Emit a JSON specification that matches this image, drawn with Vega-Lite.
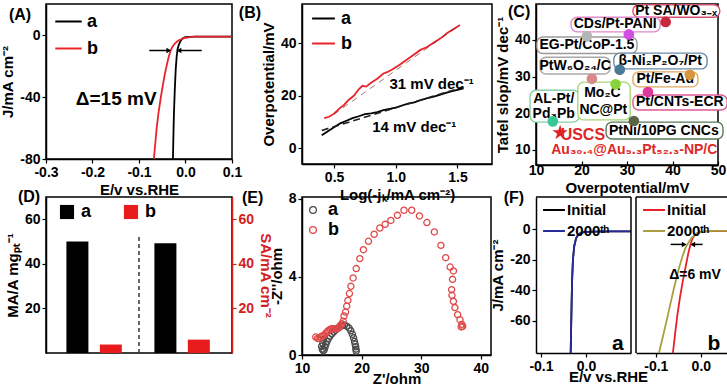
{
  "$schema": "https://vega.github.io/schema/vega-lite/v6.json",
  "background": "white",
  "padding": {"left": 0, "top": 1, "right": 0, "bottom": 0},
  "config": {
    "font": "Liberation Sans",
    "view": {"stroke": "black", "strokeWidth": 1.5},
    "axis": {"grid": false, "domainColor": "black", "domainWidth": 1.5, "tickColor": "black", "tickWidth": 1.2, "tickSize": 4, "labelFont": "Liberation Sans", "labelFontSize": 14, "labelFontWeight": "bold", "labelColor": "black", "titleFont": "Liberation Sans", "titleFontSize": 15, "titleFontWeight": "bold", "titleColor": "black", "labelPadding": 2, "titlePadding": 2, "labelFlush": false, "labelOverlap": false},
    "legend": {"labelFont": "Liberation Sans", "labelFontWeight": "bold", "labelColor": "black"},
    "text": {"font": "Liberation Sans", "fontWeight": "bold"}
  },
  "columns": 5,
  "spacing": {"row": 32, "column": 5},
  "bounds": "flush",
  "resolve": {"scale": {"color": "independent", "stroke": "independent", "fill": "independent", "shape": "independent", "size": "independent"}},
  "concat": [
    {
      "width": 186, "height": 155,
      "layer": [
        {
          "data": {"values": [
            {"s": "a", "E": 0.1, "J": -1}, {"s": "a", "E": 0.05, "J": -1}, {"s": "a", "E": 0.02, "J": -1.1}, {"s": "a", "E": 0.0, "J": -1.4}, {"s": "a", "E": -0.005, "J": -2}, {"s": "a", "E": -0.01, "J": -3.5}, {"s": "a", "E": -0.014, "J": -6}, {"s": "a", "E": -0.017, "J": -9}, {"s": "a", "E": -0.019, "J": -14}, {"s": "a", "E": -0.021, "J": -22}, {"s": "a", "E": -0.023, "J": -35}, {"s": "a", "E": -0.025, "J": -52}, {"s": "a", "E": -0.026, "J": -65}, {"s": "a", "E": -0.027, "J": -80},
            {"s": "b", "E": 0.1, "J": -1}, {"s": "b", "E": 0.05, "J": -1}, {"s": "b", "E": 0.02, "J": -1.1}, {"s": "b", "E": 0.005, "J": -1.5}, {"s": "b", "E": -0.005, "J": -2.2}, {"s": "b", "E": -0.013, "J": -3.2}, {"s": "b", "E": -0.018, "J": -4.2}, {"s": "b", "E": -0.023, "J": -5.5}, {"s": "b", "E": -0.028, "J": -7.5}, {"s": "b", "E": -0.032, "J": -10}, {"s": "b", "E": -0.036, "J": -14}, {"s": "b", "E": -0.04, "J": -19}, {"s": "b", "E": -0.045, "J": -26}, {"s": "b", "E": -0.049, "J": -33}, {"s": "b", "E": -0.053, "J": -40}, {"s": "b", "E": -0.058, "J": -50}, {"s": "b", "E": -0.062, "J": -60}, {"s": "b", "E": -0.065, "J": -70}, {"s": "b", "E": -0.068, "J": -80}
          ]},
          "mark": {"type": "line", "strokeWidth": 1.8, "clip": true},
          "encoding": {
            "x": {"field": "E", "type": "quantitative", "scale": {"domain": [-0.3, 0.1], "nice": false, "zero": false}, "axis": {"values": [-0.3, -0.2, -0.1, 0, 0.1], "format": ".1f", "title": "E/v vs.RHE", "labelExpr": "replace(datum.label, '\u2212', '-')", "titlePadding": 3}},
            "y": {"field": "J", "type": "quantitative", "scale": {"domain": [-80, 20], "nice": false, "zero": false}, "axis": {"values": [-80, -60, -40, -20, 0], "title": "J/mA cm\u207b\u00b2", "labelExpr": "replace(datum.label, '\u2212', '-')", "titlePadding": 4}},
            "color": {"field": "s", "type": "nominal", "scale": {"domain": ["a", "b"], "range": ["black", "#e8242a"]}, "legend": {"orient": "none", "legendX": 8, "legendY": 3, "title": null, "symbolType": "stroke", "symbolSize": 700, "symbolStrokeWidth": 2, "labelFontSize": 18, "rowPadding": 3, "labelOffset": 4}}
          }
        },
        {
          "data": {"values": [{}]},
          "mark": {"type": "rule", "color": "black", "strokeWidth": 1.5},
          "encoding": {"x": {"datum": -0.078}, "x2": {"datum": -0.036}, "y": {"datum": -10}}
        },
        {
          "data": {"values": [{}]},
          "mark": {"type": "rule", "color": "black", "strokeWidth": 1.5},
          "encoding": {"x": {"datum": 0.035}, "x2": {"datum": -0.014}, "y": {"datum": -10}}
        },
        {
          "data": {"values": [{}]},
          "mark": {"type": "point", "shape": "triangle-right", "filled": true, "color": "black", "size": 30, "opacity": 1},
          "encoding": {"x": {"datum": -0.036}, "y": {"datum": -10}}
        },
        {
          "data": {"values": [{}]},
          "mark": {"type": "point", "shape": "triangle-left", "filled": true, "color": "black", "size": 30, "opacity": 1},
          "encoding": {"x": {"datum": -0.014}, "y": {"datum": -10}}
        },
        {
          "data": {"values": [{"t": "\u0394=15 mV", "E": -0.149, "J": -41}]},
          "mark": {"type": "text", "fontSize": 19, "color": "black", "align": "center", "baseline": "middle"},
          "encoding": {"x": {"field": "E", "type": "quantitative"}, "y": {"field": "J", "type": "quantitative"}, "text": {"field": "t"}}
        },
        {
          "data": {"values": [{"t": "(A)", "E": -0.3796, "J": 12.6}]},
          "mark": {"type": "text", "fontSize": 16, "color": "black", "align": "left", "baseline": "middle"},
          "encoding": {"x": {"field": "E", "type": "quantitative"}, "y": {"field": "J", "type": "quantitative"}, "text": {"field": "t"}}
        }
      ]
    },
    {
      "width": 60, "height": 1,
      "view": {"stroke": null},
      "data": {"values": [{}]},
      "mark": {"type": "point", "opacity": 0}
    },
    {
      "width": 190, "height": 160,
      "layer": [
        {
          "data": {"values": [
            {"s": "a", "L": 0.4, "V": 5}, {"s": "a", "L": 0.45, "V": 6.5}, {"s": "a", "L": 0.5, "V": 8}, {"s": "a", "L": 0.55, "V": 9.5}, {"s": "a", "L": 0.6, "V": 10.5}, {"s": "a", "L": 0.65, "V": 11.5}, {"s": "a", "L": 0.7, "V": 12.2}, {"s": "a", "L": 0.75, "V": 13}, {"s": "a", "L": 0.8, "V": 13.3}, {"s": "a", "L": 0.85, "V": 13.8}, {"s": "a", "L": 0.9, "V": 14.5}, {"s": "a", "L": 0.95, "V": 15}, {"s": "a", "L": 1.0, "V": 15.5}, {"s": "a", "L": 1.05, "V": 16.3}, {"s": "a", "L": 1.1, "V": 17}, {"s": "a", "L": 1.15, "V": 17.5}, {"s": "a", "L": 1.2, "V": 18.3}, {"s": "a", "L": 1.25, "V": 19}, {"s": "a", "L": 1.3, "V": 19.6}, {"s": "a", "L": 1.35, "V": 20.3}, {"s": "a", "L": 1.4, "V": 21}, {"s": "a", "L": 1.45, "V": 21.7}, {"s": "a", "L": 1.5, "V": 22.3}, {"s": "a", "L": 1.55, "V": 22.8},
            {"s": "b", "L": 0.42, "V": 11.5}, {"s": "b", "L": 0.46, "V": 12}, {"s": "b", "L": 0.5, "V": 13.2}, {"s": "b", "L": 0.54, "V": 15}, {"s": "b", "L": 0.58, "V": 16.5}, {"s": "b", "L": 0.62, "V": 18.5}, {"s": "b", "L": 0.66, "V": 20}, {"s": "b", "L": 0.7, "V": 22.5}, {"s": "b", "L": 0.73, "V": 23.8}, {"s": "b", "L": 0.76, "V": 23.5}, {"s": "b", "L": 0.8, "V": 25}, {"s": "b", "L": 0.85, "V": 26.5}, {"s": "b", "L": 0.9, "V": 28.5}, {"s": "b", "L": 0.93, "V": 29}, {"s": "b", "L": 0.97, "V": 30}, {"s": "b", "L": 1.02, "V": 31.5}, {"s": "b", "L": 1.08, "V": 33.5}, {"s": "b", "L": 1.14, "V": 35.5}, {"s": "b", "L": 1.2, "V": 37.5}, {"s": "b", "L": 1.25, "V": 38.5}, {"s": "b", "L": 1.3, "V": 40}, {"s": "b", "L": 1.36, "V": 41.8}, {"s": "b", "L": 1.42, "V": 44}, {"s": "b", "L": 1.47, "V": 45.5}, {"s": "b", "L": 1.52, "V": 47}
          ]},
          "mark": {"type": "line", "strokeWidth": 1.8},
          "encoding": {
            "x": {"field": "L", "type": "quantitative", "scale": {"domain": [0.24, 1.78], "nice": false, "zero": false}, "axis": {"values": [0.5, 1.0, 1.5], "format": ".1f", "title": "Log(-j\u2096/mA cm\u207b\u00b2)", "titlePadding": 3}},
            "y": {"field": "V", "type": "quantitative", "scale": {"domain": [-6, 55], "nice": false, "zero": false}, "axis": {"values": [0, 10, 20, 30, 40], "title": "Overpotential/mV", "titlePadding": 4}},
            "color": {"field": "s", "type": "nominal", "scale": {"domain": ["a", "b"], "range": ["black", "#e8242a"]}, "legend": {"orient": "none", "legendX": 9, "legendY": 2, "title": null, "symbolType": "stroke", "symbolSize": 520, "symbolStrokeWidth": 2, "labelFontSize": 18, "rowPadding": 3, "labelOffset": 5}}
          }
        },
        {
          "data": {"values": [{"L": 0.4, "V": 6.8}, {"L": 1.55, "V": 23.4}]},
          "mark": {"type": "line", "strokeWidth": 1.6, "color": "#222", "strokeDash": [7, 4]},
          "encoding": {"x": {"field": "L", "type": "quantitative"}, "y": {"field": "V", "type": "quantitative"}}
        },
        {
          "data": {"values": [{"L": 0.5, "V": 13.0}, {"L": 1.5, "V": 46.4}]},
          "mark": {"type": "line", "strokeWidth": 1, "color": "#7a1010", "strokeDash": [6, 5], "opacity": 0.6},
          "encoding": {"x": {"field": "L", "type": "quantitative"}, "y": {"field": "V", "type": "quantitative"}}
        },
        {
          "data": {"values": [{"t": "31 mV dec\u207b\u00b9", "L": 1.29, "V": 24.6}, {"t": "14 mV dec\u207b\u00b9", "L": 1.15, "V": 8.1}]},
          "mark": {"type": "text", "fontSize": 15, "color": "black", "align": "center", "baseline": "middle"},
          "encoding": {"x": {"field": "L", "type": "quantitative"}, "y": {"field": "V", "type": "quantitative"}, "text": {"field": "t"}}
        },
        {
          "data": {"values": [{"t": "(B)", "L": -0.272, "V": 51.6}]},
          "mark": {"type": "text", "fontSize": 16, "color": "black", "align": "left", "baseline": "middle"},
          "encoding": {"x": {"field": "L", "type": "quantitative"}, "y": {"field": "V", "type": "quantitative"}, "text": {"field": "t"}}
        }
      ]
    },
    {
      "width": 34, "height": 1,
      "view": {"stroke": null},
      "data": {"values": [{}]},
      "mark": {"type": "point", "opacity": 0}
    },
    {
      "width": 182, "height": 161,
      "layer": [
        {
          "data": {"values": [
            {"name": "Pt SA", "x1": 31.3, "x2": 50.4, "y1": 46.2, "y2": 49.6},
            {"name": "CDs", "x1": 17.7, "x2": 37.3, "y1": 42.2, "y2": 46.2},
            {"name": "EG", "x1": 10.2, "x2": 32.2, "y1": 36.3, "y2": 40.8},
            {"name": "PtW", "x1": 10.9, "x2": 26.3, "y1": 30.7, "y2": 35.3},
            {"name": "NiP", "x1": 27.1, "x2": 47.6, "y1": 32.1, "y2": 36.4},
            {"name": "FeAu", "x1": 31.3, "x2": 45.6, "y1": 27.2, "y2": 31.3},
            {"name": "ALPt", "x1": 8.7, "x2": 19.5, "y1": 17.6, "y2": 26.3},
            {"name": "Mo2C", "x1": 19.2, "x2": 30.7, "y1": 18.2, "y2": 28.5},
            {"name": "CNT", "x1": 31.3, "x2": 52, "y1": 20.9, "y2": 25},
            {"name": "PtNi", "x1": 25.4, "x2": 51.1, "y1": 13, "y2": 17.6}
          ]},
          "mark": {"type": "rect", "fill": "white", "strokeWidth": 1.4, "cornerRadius": 6, "clip": false},
          "encoding": {
            "x": {"field": "x1", "type": "quantitative", "scale": {"domain": [10, 50], "nice": false, "zero": false}, "axis": {"values": [10, 20, 30, 40, 50], "title": "Overpotential/mV", "titlePadding": 3, "tickSize": -4}},
            "x2": {"field": "x2"},
            "y": {"field": "y1", "type": "quantitative", "scale": {"domain": [5.9, 49.8], "nice": false, "zero": false}, "axis": {"values": [10, 20, 30, 40], "title": "Tafel slop/mV dec\u207b\u00b9", "titlePadding": 4}},
            "y2": {"field": "y2"},
            "stroke": {"field": "name", "type": "nominal", "scale": {"domain": ["Pt SA", "CDs", "EG", "PtW", "NiP", "FeAu", "ALPt", "Mo2C", "CNT", "PtNi"], "range": ["#d85070", "#e088c8", "#9a9a9a", "#a8a8a8", "#6a8aa8", "#e0a860", "#88d0a8", "#a8d878", "#e05898", "#5a7a5a"]}, "legend": null}
          }
        },
        {
          "data": {"values": [
            {"t": "Pt SA/WO\u2083\u208b\u2093", "x": 40.8, "y": 48.0},
            {"t": "CDs/Pt-PANI", "x": 27.4, "y": 44.3},
            {"t": "EG-Pt/CoP-1.5", "x": 21.2, "y": 38.5},
            {"t": "PtW\u2086O\u2082\u2084/C", "x": 18.6, "y": 32.9},
            {"t": "\u03b2-Ni\u2082P\u2082O\u2087/Pt", "x": 37.3, "y": 34.3},
            {"t": "Pt/Fe-Au", "x": 38.4, "y": 29.3},
            {"t": "AL-Pt/", "x": 13.9, "y": 23.9},
            {"t": "Pd\u2083Pb", "x": 13.9, "y": 19.8},
            {"t": "Mo\u2082C", "x": 24.6, "y": 25.5},
            {"t": "NC@Pt", "x": 24.8, "y": 21.0},
            {"t": "Pt/CNTs-ECR", "x": 41.6, "y": 23.0},
            {"t": "PtNi/10PG CNCs", "x": 38.1, "y": 15.3}
          ]},
          "mark": {"type": "text", "fontSize": 14, "color": "black", "align": "center", "baseline": "middle"},
          "encoding": {"x": {"field": "x", "type": "quantitative"}, "y": {"field": "y", "type": "quantitative"}, "text": {"field": "t"}}
        },
        {
          "data": {"values": [
            {"name": "Pt SA", "x": 38.5, "y": 44.9},
            {"name": "CDs", "x": 30.4, "y": 41.5},
            {"name": "EG", "x": 21.2, "y": 41},
            {"name": "PtW", "x": 22.3, "y": 29.4},
            {"name": "NiP", "x": 28.4, "y": 31.9},
            {"name": "FeAu", "x": 43.8, "y": 30.5},
            {"name": "Mo2C", "x": 27.5, "y": 27.9},
            {"name": "CNT", "x": 34.6, "y": 25.8},
            {"name": "PtNi", "x": 31.5, "y": 17.9},
            {"name": "ALPt", "x": 13.7, "y": 17.8}
          ]},
          "mark": {"type": "circle", "size": 115, "opacity": 1},
          "encoding": {
            "x": {"field": "x", "type": "quantitative"},
            "y": {"field": "y", "type": "quantitative"},
            "color": {"field": "name", "type": "nominal", "scale": {"domain": ["Pt SA", "CDs", "EG", "PtW", "NiP", "FeAu", "ALPt", "Mo2C", "CNT", "PtNi"], "range": ["#c8283c", "#d24ee0", "#b4b4b4", "#d88a8a", "#4a7a98", "#d8963c", "#38c898", "#88d438", "#e0389a", "#5c6446"]}, "legend": null}
          }
        },
        {
          "data": {"values": [{"x": 15.3, "y": 14.7}]},
          "mark": {"type": "point", "shape": "M0,-1L0.2245,-0.309L0.9511,-0.309L0.3633,0.118L0.5878,0.809L0,0.382L-0.5878,0.809L-0.3633,0.118L-0.9511,-0.309L-0.2245,-0.309Z", "filled": true, "color": "#e02020", "size": 260, "opacity": 1},
          "encoding": {"x": {"field": "x", "type": "quantitative"}, "y": {"field": "y", "type": "quantitative"}}
        },
        {
          "data": {"values": [{"t": "USCS", "x": 20.3, "y": 14.1}]},
          "mark": {"type": "text", "fontSize": 16, "color": "#e02828", "align": "center", "baseline": "middle"},
          "encoding": {"x": {"field": "x", "type": "quantitative"}, "y": {"field": "y", "type": "quantitative"}, "text": {"field": "t"}}
        },
        {
          "data": {"values": [{"t": "Au\u2083\u2080.\u2084@Au\u2089.\u2083Pt\u2085\u2082.\u2083-NP/C", "x": 31.6, "y": 10.0}]},
          "mark": {"type": "text", "fontSize": 14, "color": "#e02828", "align": "center", "baseline": "middle"},
          "encoding": {"x": {"field": "x", "type": "quantitative"}, "y": {"field": "y", "type": "quantitative"}, "text": {"field": "t"}}
        },
        {
          "data": {"values": [{"t": "(C)", "x": 3.85, "y": 47.5}]},
          "mark": {"type": "text", "fontSize": 16, "color": "black", "align": "left", "baseline": "middle"},
          "encoding": {"x": {"field": "x", "type": "quantitative"}, "y": {"field": "y", "type": "quantitative"}, "text": {"field": "t"}}
        }
      ]
    },
    {
      "width": 186, "height": 156,
      "data": {"values": [
        {"pos": 1.5, "s": "a", "v": 50},
        {"pos": 3.4, "s": "b", "v": 3.8},
        {"pos": 6.5, "s": "a", "v": 49.2},
        {"pos": 8.4, "s": "b", "v": 6}
      ]},
      "resolve": {"scale": {"y": "independent"}},
      "layer": [
        {
          "transform": [{"filter": "datum.s == 'a'"}],
          "mark": {"type": "bar", "size": 22},
          "encoding": {
            "x": {"field": "pos", "type": "quantitative", "scale": {"domain": [0, 10], "nice": false, "zero": false}, "axis": null},
            "y": {"field": "v", "type": "quantitative", "scale": {"domain": [0, 70], "nice": false}, "axis": {"values": [20, 40, 60], "title": "MA/A mg\u209a\u209c\u207b\u00b9", "titlePadding": 4}},
            "color": {"field": "s", "type": "nominal", "scale": {"domain": ["a", "b"], "range": ["black", "#e81c1c"]}, "legend": {"orient": "none", "legendX": 12, "legendY": 6, "direction": "horizontal", "title": null, "symbolType": "square", "symbolSize": 200, "labelFontSize": 18, "columnPadding": 30, "labelOffset": 5}}
          }
        },
        {
          "transform": [{"filter": "datum.s == 'b'"}],
          "mark": {"type": "bar", "size": 22},
          "encoding": {
            "x": {"field": "pos", "type": "quantitative"},
            "y": {"field": "v", "type": "quantitative", "scale": {"domain": [0, 70], "nice": false}, "axis": {"orient": "right", "values": [20, 40, 60], "title": "SA/mA cm\u207b\u00b2", "labelColor": "#d42020", "titleColor": "#d42020", "domainColor": "#d42020", "tickColor": "#d42020", "titlePadding": 4}},
            "color": {"field": "s", "type": "nominal"}
          }
        },
        {
          "data": {"values": [{}]},
          "mark": {"type": "rule", "color": "#333", "strokeWidth": 1.5, "strokeDash": [4, 3]},
          "encoding": {"x": {"datum": 5}, "y": {"datum": 0, "scale": {"domain": [0, 70], "nice": false}, "axis": null}, "y2": {"datum": 53}}
        },
        {
          "data": {"values": [{"t": "(D)", "pos": -1.88, "v": 70}]},
          "mark": {"type": "text", "fontSize": 16, "color": "black", "align": "left", "baseline": "middle"},
          "encoding": {"x": {"field": "pos", "type": "quantitative"}, "y": {"field": "v", "type": "quantitative", "scale": {"domain": [0, 70], "nice": false}, "axis": null}, "text": {"field": "t"}}
        }
      ]
    },
    {
      "width": 60, "height": 1,
      "view": {"stroke": null},
      "data": {"values": [{}]},
      "mark": {"type": "point", "opacity": 0}
    },
    {
      "width": 189, "height": 158,
      "layer": [
        {
          "data": {"values": [
            {"s": "a", "x": 13.3, "y": 0.45}, {"s": "a", "x": 13.4, "y": 0.3}, {"s": "a", "x": 13.55, "y": 0.22}, {"s": "a", "x": 13.7, "y": 0.25}, {"s": "a", "x": 13.5, "y": 0.6}, {"s": "a", "x": 13.6, "y": 0.8}, {"s": "a", "x": 13.85, "y": 0.4}, {"s": "a", "x": 14.0, "y": 0.55}, {"s": "a", "x": 14.2, "y": 0.7}, {"s": "a", "x": 14.45, "y": 0.85}, {"s": "a", "x": 14.7, "y": 0.97}, {"s": "a", "x": 15.0, "y": 1.08}, {"s": "a", "x": 15.3, "y": 1.18}, {"s": "a", "x": 15.6, "y": 1.27}, {"s": "a", "x": 15.9, "y": 1.35}, {"s": "a", "x": 16.2, "y": 1.42}, {"s": "a", "x": 16.5, "y": 1.48}, {"s": "a", "x": 16.8, "y": 1.53}, {"s": "a", "x": 17.1, "y": 1.53}, {"s": "a", "x": 17.5, "y": 1.48}, {"s": "a", "x": 17.9, "y": 1.38}, {"s": "a", "x": 18.2, "y": 1.24}, {"s": "a", "x": 18.45, "y": 1.06}, {"s": "a", "x": 18.65, "y": 0.88}, {"s": "a", "x": 18.8, "y": 0.7}, {"s": "a", "x": 18.92, "y": 0.55}, {"s": "a", "x": 19.0, "y": 0.42}, {"s": "a", "x": 19.05, "y": 0.3}, {"s": "a", "x": 19.1, "y": 0.2},
            {"s": "b", "x": 12.3, "y": 0.92}, {"s": "b", "x": 12.6, "y": 0.85}, {"s": "b", "x": 12.86, "y": 0.84}, {"s": "b", "x": 13.1, "y": 0.92}, {"s": "b", "x": 13.4, "y": 0.98}, {"s": "b", "x": 13.7, "y": 1.01}, {"s": "b", "x": 14.0, "y": 1.12}, {"s": "b", "x": 14.25, "y": 1.2}, {"s": "b", "x": 14.5, "y": 1.27}, {"s": "b", "x": 14.8, "y": 1.32}, {"s": "b", "x": 15.05, "y": 1.35}, {"s": "b", "x": 15.3, "y": 1.35}, {"s": "b", "x": 15.55, "y": 1.34}, {"s": "b", "x": 15.8, "y": 1.35}, {"s": "b", "x": 16.05, "y": 1.37}, {"s": "b", "x": 16.25, "y": 1.42}, {"s": "b", "x": 16.45, "y": 1.52}, {"s": "b", "x": 16.7, "y": 1.6}, {"s": "b", "x": 16.9, "y": 1.73}, {"s": "b", "x": 17.05, "y": 2.0}, {"s": "b", "x": 17.3, "y": 2.2}, {"s": "b", "x": 17.5, "y": 2.5}, {"s": "b", "x": 17.7, "y": 2.8}, {"s": "b", "x": 17.95, "y": 3.15}, {"s": "b", "x": 18.2, "y": 3.52}, {"s": "b", "x": 18.57, "y": 3.95}, {"s": "b", "x": 19.1, "y": 4.43}, {"s": "b", "x": 19.7, "y": 4.94}, {"s": "b", "x": 20.3, "y": 5.4}, {"s": "b", "x": 21.15, "y": 5.83}, {"s": "b", "x": 22.1, "y": 6.19}, {"s": "b", "x": 23.05, "y": 6.51}, {"s": "b", "x": 23.95, "y": 6.7}, {"s": "b", "x": 24.9, "y": 6.9}, {"s": "b", "x": 26.0, "y": 7.16}, {"s": "b", "x": 27.1, "y": 7.42}, {"s": "b", "x": 28.4, "y": 7.42}, {"s": "b", "x": 29.7, "y": 7.13}, {"s": "b", "x": 30.95, "y": 6.79}, {"s": "b", "x": 32.2, "y": 6.31}, {"s": "b", "x": 33.3, "y": 5.62}, {"s": "b", "x": 34.1, "y": 4.99}, {"s": "b", "x": 34.85, "y": 4.51}, {"s": "b", "x": 35.4, "y": 4.31}, {"s": "b", "x": 35.25, "y": 3.88}, {"s": "b", "x": 35.1, "y": 3.35}, {"s": "b", "x": 35.15, "y": 3.06}, {"s": "b", "x": 35.4, "y": 2.75}, {"s": "b", "x": 35.65, "y": 2.43}, {"s": "b", "x": 36.1, "y": 2.07}, {"s": "b", "x": 36.5, "y": 1.81}, {"s": "b", "x": 36.8, "y": 1.57}, {"s": "b", "x": 36.95, "y": 1.47}, {"s": "b", "x": 36.7, "y": 1.44}
          ]},
          "mark": {"type": "point", "shape": "circle", "filled": false, "size": 38, "strokeWidth": 1.3, "opacity": 1},
          "encoding": {
            "x": {"field": "x", "type": "quantitative", "scale": {"domain": [10, 41.7], "nice": false, "zero": false}, "axis": {"values": [10, 20, 30, 40], "title": "Z'/ohm", "titlePadding": -4}},
            "y": {"field": "y", "type": "quantitative", "scale": {"domain": [0, 8.1], "nice": false, "zero": false}, "axis": {"values": [0, 2, 4, 6, 8], "title": "-Z''/ohm", "titlePadding": 4}},
            "color": {"field": "s", "type": "nominal", "scale": {"domain": ["a", "b"], "range": ["#4a4a4a", "#e04848"]}, "legend": {"orient": "none", "legendX": 2, "legendY": 4, "title": null, "symbolType": "circle", "symbolSize": 45, "symbolStrokeWidth": 1.3, "labelFontSize": 18, "rowPadding": 2, "labelOffset": 6}}
          }
        },
        {
          "data": {"values": [{"t": "(E)", "x": -0.08, "y": 8.05}]},
          "mark": {"type": "text", "fontSize": 16, "color": "black", "align": "left", "baseline": "middle"},
          "encoding": {"x": {"field": "x", "type": "quantitative"}, "y": {"field": "y", "type": "quantitative"}, "text": {"field": "t"}}
        }
      ]
    },
    {
      "width": 34, "height": 1,
      "view": {"stroke": null},
      "data": {"values": [{}]},
      "mark": {"type": "point", "opacity": 0}
    },
    {
      "width": 195, "height": 156,
      "view": {"stroke": null},
      "resolve": {"scale": {"x": "independent", "color": "independent"}},
      "layer": [
        {
          "data": {"values": [
            {"s": "Initial", "E": 0.1, "J": -1.5}, {"s": "Initial", "E": 0.05, "J": -1.5}, {"s": "Initial", "E": 0.02, "J": -1.6}, {"s": "Initial", "E": 0.0, "J": -1.8}, {"s": "Initial", "E": -0.01, "J": -2.3}, {"s": "Initial", "E": -0.017, "J": -3.5}, {"s": "Initial", "E": -0.022, "J": -6}, {"s": "Initial", "E": -0.026, "J": -11}, {"s": "Initial", "E": -0.029, "J": -20}, {"s": "Initial", "E": -0.031, "J": -35}, {"s": "Initial", "E": -0.032, "J": -50}, {"s": "Initial", "E": -0.033, "J": -65}, {"s": "Initial", "E": -0.034, "J": -81},
            {"s": "2000\u1d57\u02b0", "E": 0.1, "J": -1.5}, {"s": "2000\u1d57\u02b0", "E": 0.05, "J": -1.5}, {"s": "2000\u1d57\u02b0", "E": 0.02, "J": -1.6}, {"s": "2000\u1d57\u02b0", "E": 0.0, "J": -1.8}, {"s": "2000\u1d57\u02b0", "E": -0.01, "J": -2.3}, {"s": "2000\u1d57\u02b0", "E": -0.017, "J": -3.5}, {"s": "2000\u1d57\u02b0", "E": -0.022, "J": -6}, {"s": "2000\u1d57\u02b0", "E": -0.026, "J": -11}, {"s": "2000\u1d57\u02b0", "E": -0.029, "J": -20}, {"s": "2000\u1d57\u02b0", "E": -0.031, "J": -35}, {"s": "2000\u1d57\u02b0", "E": -0.032, "J": -50}, {"s": "2000\u1d57\u02b0", "E": -0.033, "J": -65}, {"s": "2000\u1d57\u02b0", "E": -0.034, "J": -81}
          ]},
          "mark": {"type": "line", "strokeWidth": 1.8},
          "encoding": {
            "x": {"field": "E", "type": "quantitative", "scale": {"domain": [-0.111, 0.1], "range": [0, 95], "nice": false, "zero": false}, "axis": {"orient": "bottom", "values": [-0.1, 0], "format": ".1f", "title": "E/v vs.RHE", "labelExpr": "replace(datum.label, '\u2212', '-')", "titleX": 72, "titleAlign": "center", "titleAnchor": null, "titlePadding": -4}},
            "y": {"field": "J", "type": "quantitative", "scale": {"domain": [-81, 21], "nice": false, "zero": false}, "axis": {"values": [-60, -40, -20, 0], "title": "J/mA cm\u207b\u00b2", "labelExpr": "replace(datum.label, '\u2212', '-')", "titlePadding": 4}},
            "color": {"field": "s", "type": "nominal", "scale": {"domain": ["Initial", "2000\u1d57\u02b0"], "range": ["black", "#2a2a9a"]}, "legend": {"orient": "none", "legendX": 6, "legendY": 1, "title": null, "symbolType": "stroke", "symbolSize": 480, "symbolStrokeWidth": 2, "labelFontSize": 15, "rowPadding": 1, "labelOffset": 1}}
          }
        },
        {
          "data": {"values": [{"t": "a", "E": 0.071, "J": -75, "f": 21}, {"t": "(F)", "E": -0.160, "J": 20.3, "f": 16}]},
          "mark": {"type": "text", "color": "black", "align": "center", "baseline": "middle"},
          "encoding": {"x": {"field": "E", "type": "quantitative", "scale": {"domain": [-0.111, 0.1], "range": [0, 95], "nice": false, "zero": false}, "axis": null}, "y": {"field": "J", "type": "quantitative"}, "text": {"field": "t"}, "size": {"field": "f", "type": "quantitative", "scale": null}}
        },
        {
          "data": {"values": [{}]},
          "mark": {"type": "rule", "color": "black", "strokeWidth": 1.5},
          "encoding": {"x": {"datum": 0.1, "scale": {"domain": [-0.111, 0.1], "range": [0, 95], "nice": false, "zero": false}, "axis": null}, "y": {"datum": -81}, "y2": {"datum": 21}}
        },
        {
          "data": {"values": [{}]},
          "mark": {"type": "rule", "color": "black", "strokeWidth": 1.5},
          "encoding": {"x": {"datum": -0.111, "scale": {"domain": [-0.111, 0.1], "range": [0, 95], "nice": false, "zero": false}, "axis": null}, "x2": {"datum": 0.1}, "y": {"datum": 21}}
        },
        {
          "data": {"values": [
            {"s": "Initial", "E": 0.067, "J": -1.3}, {"s": "Initial", "E": 0.03, "J": -1.3}, {"s": "Initial", "E": 0.01, "J": -1.5}, {"s": "Initial", "E": 0.0, "J": -1.8}, {"s": "Initial", "E": -0.008, "J": -2.6}, {"s": "Initial", "E": -0.014, "J": -4}, {"s": "Initial", "E": -0.019, "J": -6.5}, {"s": "Initial", "E": -0.023, "J": -10}, {"s": "Initial", "E": -0.028, "J": -16}, {"s": "Initial", "E": -0.034, "J": -25}, {"s": "Initial", "E": -0.04, "J": -34}, {"s": "Initial", "E": -0.046, "J": -44}, {"s": "Initial", "E": -0.052, "J": -56}, {"s": "Initial", "E": -0.057, "J": -68}, {"s": "Initial", "E": -0.062, "J": -81},
            {"s": "2000\u1d57\u02b0", "E": 0.067, "J": -1.2}, {"s": "2000\u1d57\u02b0", "E": 0.03, "J": -1.2}, {"s": "2000\u1d57\u02b0", "E": 0.01, "J": -1.5}, {"s": "2000\u1d57\u02b0", "E": 0.0, "J": -2}, {"s": "2000\u1d57\u02b0", "E": -0.01, "J": -3.2}, {"s": "2000\u1d57\u02b0", "E": -0.02, "J": -5.5}, {"s": "2000\u1d57\u02b0", "E": -0.027, "J": -8.5}, {"s": "2000\u1d57\u02b0", "E": -0.033, "J": -11.5}, {"s": "2000\u1d57\u02b0", "E": -0.04, "J": -17}, {"s": "2000\u1d57\u02b0", "E": -0.05, "J": -27}, {"s": "2000\u1d57\u02b0", "E": -0.06, "J": -39}, {"s": "2000\u1d57\u02b0", "E": -0.07, "J": -52}, {"s": "2000\u1d57\u02b0", "E": -0.08, "J": -65}, {"s": "2000\u1d57\u02b0", "E": -0.093, "J": -81}
          ]},
          "mark": {"type": "line", "strokeWidth": 1.8},
          "encoding": {
            "x": {"field": "E", "type": "quantitative", "scale": {"domain": [-0.144, 0.067], "range": [100, 195], "nice": false, "zero": false}, "axis": {"orient": "bottom", "values": [-0.1, 0], "format": ".1f", "title": null, "labelExpr": "replace(datum.label, '\u2212', '-')"}},
            "y": {"field": "J", "type": "quantitative"},
            "color": {"field": "s", "type": "nominal", "scale": {"domain": ["Initial", "2000\u1d57\u02b0"], "range": ["#e8202a", "#a8a040"]}, "legend": {"orient": "none", "legendX": 106, "legendY": 1, "title": null, "symbolType": "stroke", "symbolSize": 480, "symbolStrokeWidth": 2, "labelFontSize": 15, "rowPadding": 1, "labelOffset": 1}}
          }
        },
        {
          "data": {"values": [{}]},
          "mark": {"type": "rule", "color": "black", "strokeWidth": 1.5},
          "encoding": {"x": {"datum": -0.144, "scale": {"domain": [-0.144, 0.067], "range": [100, 195], "nice": false, "zero": false}, "axis": null}, "y": {"datum": -81}, "y2": {"datum": 21}}
        },
        {
          "data": {"values": [{}]},
          "mark": {"type": "rule", "color": "black", "strokeWidth": 1.5},
          "encoding": {"x": {"datum": 0.067, "scale": {"domain": [-0.144, 0.067], "range": [100, 195], "nice": false, "zero": false}, "axis": null}, "y": {"datum": -81}, "y2": {"datum": 21}}
        },
        {
          "data": {"values": [{}]},
          "mark": {"type": "rule", "color": "black", "strokeWidth": 1.5},
          "encoding": {"x": {"datum": -0.144, "scale": {"domain": [-0.144, 0.067], "range": [100, 195], "nice": false, "zero": false}, "axis": null}, "x2": {"datum": 0.067}, "y": {"datum": 21}}
        },
        {
          "data": {"values": [{}]},
          "mark": {"type": "rule", "color": "black", "strokeWidth": 1.5},
          "encoding": {"x": {"datum": -0.067, "scale": {"domain": [-0.144, 0.067], "range": [100, 195], "nice": false, "zero": false}, "axis": null}, "x2": {"datum": -0.037}, "y": {"datum": -10}}
        },
        {
          "data": {"values": [{}]},
          "mark": {"type": "rule", "color": "black", "strokeWidth": 1.5},
          "encoding": {"x": {"datum": 0.004, "scale": {"domain": [-0.144, 0.067], "range": [100, 195], "nice": false, "zero": false}, "axis": null}, "x2": {"datum": -0.018}, "y": {"datum": -10}}
        },
        {
          "data": {"values": [{}]},
          "mark": {"type": "point", "shape": "triangle-right", "filled": true, "color": "black", "size": 30, "opacity": 1},
          "encoding": {"x": {"datum": -0.037, "scale": {"domain": [-0.144, 0.067], "range": [100, 195], "nice": false, "zero": false}, "axis": null}, "y": {"datum": -10}}
        },
        {
          "data": {"values": [{}]},
          "mark": {"type": "point", "shape": "triangle-left", "filled": true, "color": "black", "size": 30, "opacity": 1},
          "encoding": {"x": {"datum": -0.018, "scale": {"domain": [-0.144, 0.067], "range": [100, 195], "nice": false, "zero": false}, "axis": null}, "y": {"datum": -10}}
        },
        {
          "data": {"values": [{"t": "\u0394=6 mV", "E": -0.013, "J": -30, "f": 14}, {"t": "b", "E": 0.029, "J": -75, "f": 21}]},
          "mark": {"type": "text", "color": "black", "align": "center", "baseline": "middle"},
          "encoding": {"x": {"field": "E", "type": "quantitative", "scale": {"domain": [-0.144, 0.067], "range": [100, 195], "nice": false, "zero": false}, "axis": null}, "y": {"field": "J", "type": "quantitative"}, "text": {"field": "t"}, "size": {"field": "f", "type": "quantitative", "scale": null}}
        }
      ]
    }
  ]
}
